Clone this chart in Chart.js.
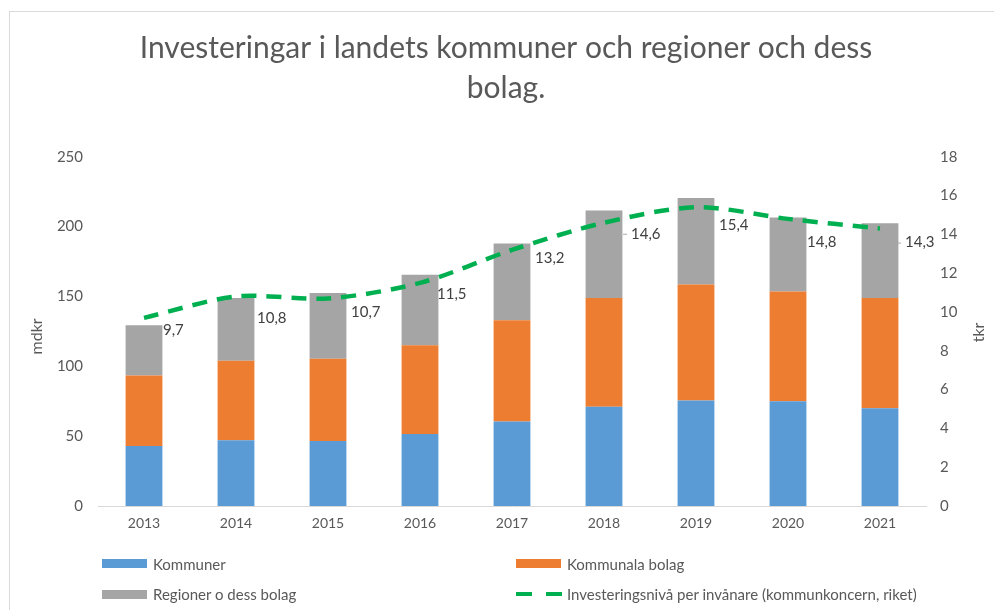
<!DOCTYPE html>
<html><head><meta charset="utf-8">
<script src="https://cdn.jsdelivr.net/npm/chart.js@4"></script>
<style>
body{margin:0;background:#fff;}
#wrap{position:relative;width:994px;height:610px;overflow:hidden;background:#fff;}
#frame{position:absolute;left:9px;top:11px;width:1200px;height:700px;border-left:1px solid #d9d9d9;border-top:1px solid #d9d9d9;}
canvas{position:absolute;left:0;top:0;}
.lg{position:absolute;font-family:Lato,"Open Sans",sans-serif;font-size:15px;color:#595959;white-space:nowrap;line-height:18px;}
.sw{position:absolute;width:45px;height:9px;}
.dash{position:absolute;width:16px;height:4px;background:#00B050;}
</style></head>
<body><div id="wrap"><div id="frame"></div><canvas id="c" width="994" height="610"></canvas><div id="legend"></div></div>
<script>
const years = ['2013','2014','2015','2016','2017','2018','2019','2020','2021'];
const kommuner = [43, 47, 46.5, 51.5, 60.5, 71, 75.5, 75, 70];
const kommunalaBolag = [50.4, 57, 59, 63.5, 72.5, 78, 83, 78.5, 79];
const regioner = [36, 45, 47, 50.5, 55, 62.5, 62, 53, 53.5];
const investeringsniva = [9.7, 10.8, 10.7, 11.5, 13.2, 14.6, 15.4, 14.8, 14.3];
const seriesNames = ['Kommuner','Kommunala bolag','Regioner o dess bolag','Investeringsnivå per invånare (kommunkoncern, riket)'];
const titleLines = ['Investeringar i landets kommuner och regioner och dess','bolag.'];
const leftAxis = {min:0, max:250, step:50, title:'mdkr'};
const rightAxis = {min:0, max:18, step:2, title:'tkr'};

// label offsets relative to each line point, and whether a short leader line is shown (styling)
const labelOffsets = [[19,12],[21,22],[23,14],[17,11],[23,8],[27,11],[23,18],[19,23],[25,14]];
const labelLeaders = [false,false,false,false,false,true,false,false,true];

const FONT = 'Lato, "Open Sans", sans-serif';
const GREY = '#595959';
const fmt = v => v.toFixed(1).replace('.', ',');

const extras = {
  id:'extras',
  afterDatasetsDraw(chart){
    const ctx = chart.ctx;
    const meta = chart.getDatasetMeta(3);
    ctx.save();
    ctx.font = '15px ' + FONT;
    ctx.fillStyle = '#404040';
    ctx.textAlign = 'left';
    ctx.textBaseline = 'middle';
    meta.data.forEach((pt, i) => {
      const o = labelOffsets[i];
      const tx = pt.x + o[0], ty = pt.y + o[1];
      ctx.fillText(fmt(investeringsniva[i]), tx, ty);
      if (labelLeaders[i]) {
        ctx.strokeStyle = '#a6a6a6'; ctx.lineWidth = 1;
        ctx.beginPath(); ctx.moveTo(tx - 8, ty + 0.5); ctx.lineTo(tx - 4, ty + 0.5); ctx.stroke();
      }
    });
    ctx.restore();
  },
  afterDraw(chart){
    const ctx = chart.ctx;
    const a = chart.chartArea;
    const mid = (a.top + a.bottom)/2;
    ctx.save();
    ctx.font = '16px ' + FONT;
    ctx.fillStyle = GREY;
    ctx.textAlign = 'center';
    ctx.textBaseline = 'middle';
    ctx.translate(37, mid + 5); ctx.rotate(-Math.PI/2); ctx.fillText(leftAxis.title, 0, 0);
    ctx.restore();
    ctx.save();
    ctx.font = '16px ' + FONT;
    ctx.fillStyle = GREY;
    ctx.textAlign = 'center';
    ctx.textBaseline = 'middle';
    ctx.translate(979, mid + 1); ctx.rotate(-Math.PI/2); ctx.fillText(rightAxis.title, 0, 0);
    ctx.restore();
  }
};

new Chart(document.getElementById('c'), {
  data:{
    labels: years,
    datasets:[
      {type:'bar', label:seriesNames[0], data:kommuner, backgroundColor:'#5B9BD5', yAxisID:'y', stack:'s', order:2},
      {type:'bar', label:seriesNames[1], data:kommunalaBolag, backgroundColor:'#ED7D31', yAxisID:'y', stack:'s', order:2},
      {type:'bar', label:seriesNames[2], data:regioner, backgroundColor:'#A5A5A5', yAxisID:'y', stack:'s', order:2},
      {type:'line', label:seriesNames[3], data:investeringsniva, borderColor:'#00B050', borderWidth:4.5, borderDash:[15,10], pointRadius:0, tension:0.3, yAxisID:'y1', order:1, fill:false}
    ]
  },
  options:{
    responsive:false, animation:false,
    layout:{padding:{left:18,right:0,top:0,bottom:74}},
    datasets:{bar:{barPercentage:0.4, categoryPercentage:1}},
    plugins:{
      legend:{display:false},
      tooltip:{enabled:false},
      title:{display:true, text:titleLines, color:GREY, font:{family:FONT, size:30, weight:'normal', lineHeight:1.33}, padding:{top:28,bottom:49}}
    },
    scales:{
      x:{stacked:true, grid:{display:false, drawTicks:false}, border:{display:true, color:'#d9d9d9', width:1},
         ticks:{color:GREY, font:{family:FONT, size:14}, padding:9},
         afterFit(s){ s.height = 30; }},
      y:{stacked:true, position:'left', min:leftAxis.min, max:leftAxis.max,
         grid:{display:false, drawTicks:false}, border:{display:false},
         ticks:{stepSize:leftAxis.step, color:GREY, font:{family:FONT, size:15}, padding:15},
         afterFit(s){ s.width = 80; }},
      y1:{position:'right', min:rightAxis.min, max:rightAxis.max,
         grid:{display:false, drawTicks:false}, border:{display:false},
         ticks:{stepSize:rightAxis.step, color:GREY, font:{family:FONT, size:15}, padding:14},
         afterFit(s){ s.width = 68; }}
    }
  },
  plugins:[extras]
});

// HTML legend
const lg = document.getElementById('legend');
const items = [
  {name:seriesNames[0], color:'#5B9BD5', x:102, y:563.5},
  {name:seriesNames[1], color:'#ED7D31', x:516, y:563.5},
  {name:seriesNames[2], color:'#A5A5A5', x:102, y:594},
  {name:seriesNames[3], color:null, x:516, y:594}
];
items.forEach(it => {
  if (it.color){
    const s = document.createElement('div'); s.className='sw';
    s.style.left = it.x+'px'; s.style.top = (it.y-4.5)+'px'; s.style.background = it.color;
    lg.appendChild(s);
  } else {
    [0,30].forEach(off => {
      const d = document.createElement('div'); d.className='dash';
      d.style.left = (it.x+off)+'px'; d.style.top = (it.y-2)+'px';
      lg.appendChild(d);
    });
  }
  const t = document.createElement('div'); t.className='lg';
  t.textContent = it.name; t.style.left = (it.x+51)+'px'; t.style.top = (it.y-9)+'px';
  lg.appendChild(t);
});
</script>
</body></html>
